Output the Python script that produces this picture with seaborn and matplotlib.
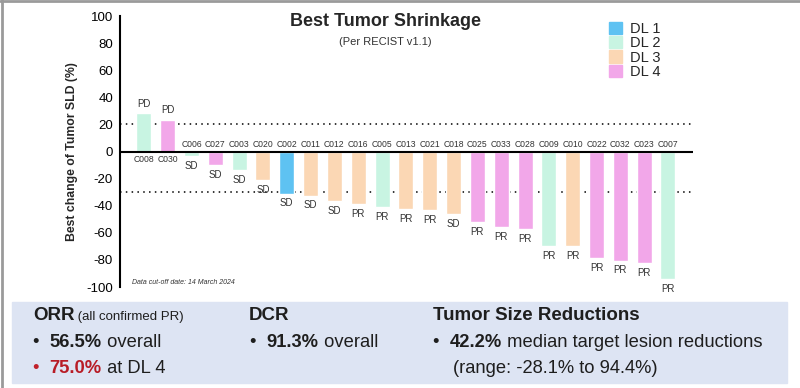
import matplotlib
matplotlib.use("Agg")
import matplotlib.pyplot as plt
import matplotlib.patches as mpatches
import matplotlib.lines as mlines
import pandas as pd
import seaborn as sns

sns.set_theme(style="white")
plt.rcParams["font.family"] = ["Liberation Sans", "DejaVu Sans"]

patients = ["C008", "C030", "C006", "C027", "C003", "C020", "C002", "C011",
            "C012", "C016", "C005", "C013", "C021", "C018", "C025", "C033",
            "C028", "C009", "C010", "C022", "C032", "C023", "C007"]
change = [28.1, 23.6, -3.2, -10.3, -13.8, -21.0, -31.0, -32.5,
          -36.5, -39.0, -41.3, -42.2, -43.0, -46.0, -52.0, -56.0,
          -57.5, -69.5, -70.0, -78.5, -80.5, -82.5, -94.4]
dose = ["DL 2", "DL 4", "DL 2", "DL 4", "DL 2", "DL 3", "DL 1", "DL 3",
        "DL 3", "DL 3", "DL 2", "DL 3", "DL 3", "DL 3", "DL 4", "DL 4",
        "DL 4", "DL 2", "DL 3", "DL 4", "DL 4", "DL 4", "DL 2"]
response = ["PD", "PD", "SD", "SD", "SD", "SD", "SD", "SD",
            "SD", "PR", "PR", "PR", "PR", "SD", "PR", "PR",
            "PR", "PR", "PR", "PR", "PR", "PR", "PR"]

dl_levels = ["DL 1", "DL 2", "DL 3", "DL 4"]
dl_colors = ["#5ec2f2", "#c8f4e2", "#fbd7b4", "#f2a7e9"]
y_ticks = [-100, -80, -60, -40, -20, 0, 20, 40, 60, 80, 100]

df = pd.DataFrame({"patient": patients, "change": change,
                   "dose": dose, "response": response})

W, H = 800, 388
fig = plt.figure(figsize=(8, 3.88), dpi=100)
fig.patch.set_facecolor("white")

# outer frame (top + left grey border)
fig.add_artist(mlines.Line2D([0.003, 0.003], [0, 1], color="#9a9a9a", lw=2,
                             transform=fig.transFigure))
fig.add_artist(mlines.Line2D([0, 1], [0.997, 0.997], color="#9a9a9a", lw=2,
                             transform=fig.transFigure))

# ── waterfall axes ───────────────────────────────────────────────────
ax = fig.add_axes([120 / W, 1 - 287 / H, 573 / W, 271 / H])
ax.set_facecolor("none")

sns.barplot(data=df, x="patient", y="change", hue="dose", order=patients,
            hue_order=dl_levels, palette=dict(zip(dl_levels, dl_colors)),
            dodge=False, width=0.63, saturation=1, ax=ax, zorder=2)

ax.axhline(20, color="black", lw=1.1, ls=(0, (1, 2.8)), zorder=1)
ax.axhline(-30, color="black", lw=1.1, ls=(0, (1, 2.8)), zorder=1)
ax.axhline(0, color="black", lw=1.5, zorder=3)

ax.set_xlim(-1, 23.05)
ax.set_ylim(-100, 100)
ax.set_yticks(y_ticks)
ax.set_yticklabels([str(t) for t in y_ticks], fontsize=9.5)
ax.tick_params(axis="y", length=4, width=1.4, pad=1, colors="black")
ax.set_xticks([])
ax.set_xlabel("")
ax.set_ylabel("Best change of Tumor SLD (%)", fontsize=8.8, fontweight="bold")
ax.yaxis.set_label_coords(-0.073, 0.5)
for s in ["top", "right", "bottom"]:
    ax.spines[s].set_visible(False)
ax.spines["left"].set_linewidth(1.5)
ax.spines["left"].set_color("black")

for i, (pid, val, resp) in enumerate(zip(patients, change, response)):
    if val >= 0:
        ax.annotate(resp, (i, val), xytext=(0, 3), textcoords="offset points",
                    ha="center", va="bottom", fontsize=7, color="#333333")
        ax.annotate(pid, (i, 0), xytext=(0, -2.5), textcoords="offset points",
                    ha="center", va="top", fontsize=6.2, color="#333333")
    else:
        ax.annotate(pid, (i, 0), xytext=(0, 1.5), textcoords="offset points",
                    ha="center", va="bottom", fontsize=6.2, color="#333333")
        ax.annotate(resp, (i, val), xytext=(0, -3.5), textcoords="offset points",
                    ha="center", va="top", fontsize=7, color="#333333")

ax.text(12 / 573, 2.5 / 271, "Data cut-off date: 14 March 2024",
        transform=ax.transAxes, fontsize=5, style="italic", color="#333333")

handles = [mpatches.Patch(color=c, label=l) for l, c in zip(dl_levels, dl_colors)]
ax.legend(handles=handles, loc="upper left", bbox_to_anchor=(602 / W, 1 - 15 / H),
          bbox_transform=fig.transFigure, frameon=False, fontsize=10.5,
          handlelength=0.9, handleheight=0.9, handletextpad=0.5,
          labelspacing=0.0, borderpad=0)

fig.text(385 / W, 1 - 22 / H, "Best Tumor Shrinkage", ha="center", va="center",
         fontsize=13, fontweight="bold")
fig.text(385 / W, 1 - 42 / H, "(Per RECIST v1.1)", ha="center", va="center",
         fontsize=8, color="#333333")

# ── summary panel ────────────────────────────────────────────────────
fig.add_artist(mpatches.Rectangle((12 / W, 1 - 383 / H), 775 / W, 81 / H,
                                  transform=fig.transFigure, color="#dde4f3",
                                  zorder=0))

renderer = fig.canvas.get_renderer()


def runs(x, y, parts):
    # draw text pieces one after another on a shared baseline (pixel coords)
    for txt, kw in parts:
        t = fig.text(x / W, 1 - y / H, txt, va="baseline", ha="left", **kw)
        x += t.get_window_extent(renderer).width


big = 13.2
head = 13.5
ink = "#1e1e1e"
runs(33, 320, [("ORR", dict(fontsize=head, fontweight="bold", color=ink)),
               (" (all confirmed PR)", dict(fontsize=9.5, color=ink))])
runs(33, 347, [("•  ", dict(fontsize=big, color=ink)),
               ("56.5%", dict(fontsize=big, fontweight="bold", color=ink)),
               (" overall", dict(fontsize=big, color=ink))])
runs(33, 373, [("•  ", dict(fontsize=big, color="#c0202a")),
               ("75.0%", dict(fontsize=big, fontweight="bold", color="#b81c26")),
               (" at DL 4", dict(fontsize=big, color=ink))])

runs(249, 320, [("DCR", dict(fontsize=head, fontweight="bold", color=ink))])
runs(250, 347, [("•  ", dict(fontsize=big, color=ink)),
                ("91.3%", dict(fontsize=big, fontweight="bold", color=ink)),
                (" overall", dict(fontsize=big, color=ink))])

runs(433, 320, [("Tumor Size Reductions", dict(fontsize=head, fontweight="bold", color=ink))])
runs(433, 347, [("•  ", dict(fontsize=big, color=ink)),
                ("42.2%", dict(fontsize=big, fontweight="bold", color=ink)),
                (" median target lesion reductions", dict(fontsize=big, color=ink))])
runs(453, 373, [("(range: -28.1% to 94.4%)", dict(fontsize=big, color=ink))])

fig.savefig("out.png", dpi=100)
